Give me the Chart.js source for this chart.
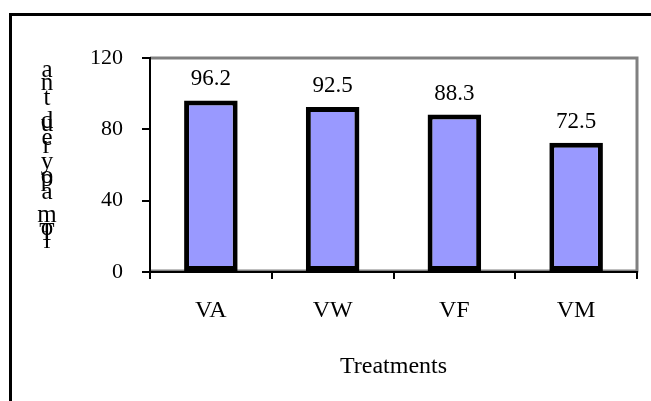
<!DOCTYPE html>
<html>
<head>
<meta charset="utf-8">
<script src="https://cdn.jsdelivr.net/npm/chart.js@4.4.0/dist/chart.umd.min.js"></script>
<style>
    html, body { margin: 0; padding: 0; background: #fff; }
    #wrap { width: 651px; height: 401px; position: relative; }
</style>
</head>
<body>
<div id="wrap"><canvas id="yieldChart" width="651" height="401"></canvas></div>
<script>
var treatments = ['VA', 'VW', 'VF', 'VM'];
var yieldValues = [96.2, 92.5, 88.3, 72.5];
var yTicks = [0, 40, 80, 120];

var serif = '"Liberation Serif", "Times New Roman", serif';

// the garbled vertical axis label of the original, letter by letter
var sideLetters = [
    ['a', 70], ['n', 83], ['t', 98], ['d', 121], ['u', 124], ['e', 138],
    ['r', 146], ['y', 162], ['o', 176], ['p', 179], ['a', 192], ['m', 215],
    ['o', 228], ['T', 233], ['l', 241]
];

var framePlugin = {
    id: 'frame',
    beforeDraw: function (chart) {
        var ctx = chart.ctx;
        var a = chart.chartArea;
        ctx.save();
        ctx.fillStyle = '#fff';
        ctx.fillRect(0, 0, chart.width, chart.height);

        // outer black frame
        ctx.strokeStyle = '#000';
        ctx.lineWidth = 3;
        ctx.beginPath();
        ctx.moveTo(10.5, chart.height + 5);
        ctx.lineTo(10.5, 14.5);
        ctx.lineTo(chart.width + 5, 14.5);
        ctx.stroke();

        // grey plot border
        ctx.strokeStyle = '#808080';
        ctx.lineWidth = 3;
        ctx.beginPath();
        ctx.moveTo(a.left, a.top);
        ctx.lineTo(a.right, a.top);
        ctx.lineTo(a.right, a.bottom - 1);
        ctx.lineTo(a.left, a.bottom - 1);
        ctx.stroke();

        // side label
        ctx.fillStyle = '#000';
        ctx.font = '25px ' + serif;
        ctx.textAlign = 'center';
        ctx.textBaseline = 'middle';
        sideLetters.forEach(function (l) {
            ctx.fillText(l[0], 47, l[1]);
        });
        ctx.restore();
    },
    afterDatasetsDraw: function (chart) {
        var ctx = chart.ctx;
        var meta = chart.getDatasetMeta(0);
        ctx.save();
        ctx.fillStyle = '#000';
        ctx.font = '23px ' + serif;
        ctx.textAlign = 'center';
        ctx.textBaseline = 'middle';
        meta.data.forEach(function (bar, i) {
            ctx.fillText(yieldValues[i].toFixed(1), bar.x, bar.y - 21);
        });
        ctx.restore();
    }
};

var ctx = document.getElementById('yieldChart').getContext('2d');
var chart = new Chart(ctx, {
    type: 'bar',
    data: {
        labels: treatments,
        datasets: [{
            data: yieldValues,
            backgroundColor: '#9999FF',
            borderColor: '#000',
            borderWidth: 5,
            borderSkipped: false,
            barPercentage: 0.88,
            categoryPercentage: 0.5
        }]
    },
    options: {
        responsive: false,
        animation: false,
        events: [],
        layout: { padding: { left: 0, right: 14, top: 58, bottom: 0 } },
        plugins: {
            legend: { display: false },
            tooltip: { enabled: false }
        },
        scales: {
            x: {
                grid: {
                    offset: true,
                    drawOnChartArea: false,
                    color: '#000',
                    lineWidth: 2,
                    tickLength: 7
                },
                border: { color: '#000', width: 2 },
                ticks: {
                    color: '#000',
                    padding: 17,
                    font: { family: serif, size: 24 }
                },
                title: {
                    display: true,
                    text: 'Treatments',
                    color: '#000',
                    font: { family: serif, size: 24 },
                    padding: { top: 0, bottom: 20 }
                },
                afterFit: function (scale) { scale.height = 129; }
            },
            y: {
                min: 0,
                max: 120,
                afterBuildTicks: function (scale) {
                    scale.ticks = yTicks.map(function (v) { return { value: v }; });
                },
                grid: {
                    drawOnChartArea: false,
                    color: '#000',
                    lineWidth: 2,
                    tickLength: 8
                },
                border: { color: '#000', width: 2 },
                ticks: {
                    color: '#000',
                    padding: 19,
                    font: { family: serif, size: 22 }
                },
                afterFit: function (scale) { scale.width = 150; }
            }
        }
    },
    plugins: [framePlugin]
});
</script>
</body>
</html>
